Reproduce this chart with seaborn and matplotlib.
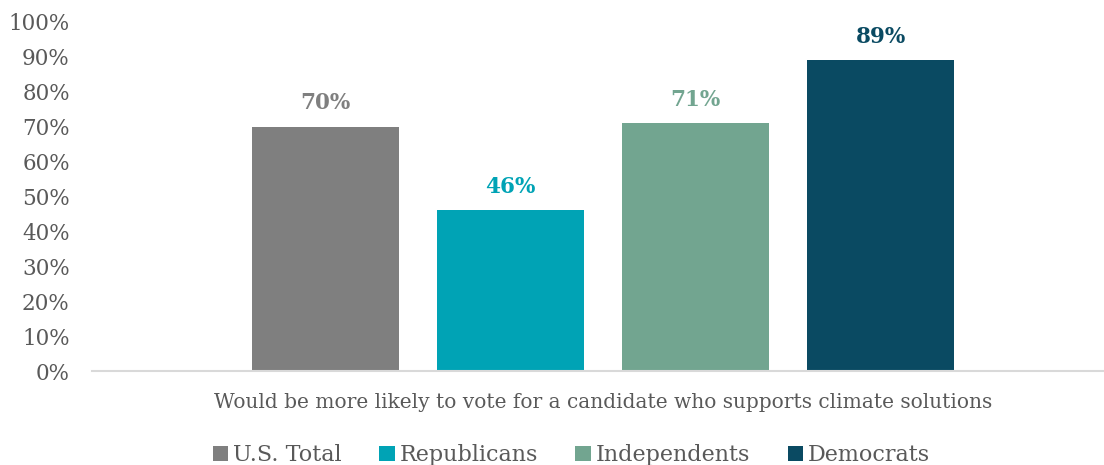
import matplotlib
matplotlib.use("Agg")
import matplotlib.pyplot as plt
import seaborn as sns
import pandas as pd

category = ["Would be more likely to vote for a candidate who supports climate solutions"]
series = ["U.S. Total", "Republicans", "Independents", "Democrats"]
values = [0.70, 0.46, 0.71, 0.89]
colors = ["#7F7F7F", "#00A3B5", "#72A590", "#0A4A62"]
yticks = [0, 0.1, 0.2, 0.3, 0.4, 0.5, 0.6, 0.7, 0.8, 0.9, 1.0]

df = pd.DataFrame({"cat": category * len(series), "series": series, "value": values})

sns.set_theme(style="white")
plt.rcParams["font.family"] = ["DejaVu Serif"]

fig = plt.figure(figsize=(11.04, 4.65), dpi=100)
ax = fig.add_axes([92 / 1104, 94 / 465, 1022 / 1104, 349 / 465])

sns.barplot(data=df, x="cat", y="value", hue="series", hue_order=series,
            palette=colors, width=0.725, gap=0.207, ax=ax, legend=True,
            saturation=1, linewidth=0)

for container, col in zip(ax.containers, colors):
    ax.bar_label(container, labels=[f"{v*100:.0f}%" for v in container.datavalues],
                 padding=9, color=col, fontsize=15.5, fontweight="bold")

ax.set_ylim(0, 1.0)
ax.set_xlim(-0.5, 0.5)
ax.set_yticks(yticks)
ax.set_yticklabels([f"{int(round(t*100))}%" for t in yticks], color="#595959", fontsize=15.5)
ax.tick_params(axis="x", labelsize=14.5, labelcolor="#595959", length=0, pad=16)
ax.tick_params(axis="y", length=0, pad=16)
ax.set_xlabel("")
ax.set_ylabel("")
for s in ["top", "right", "left"]:
    ax.spines[s].set_visible(False)
ax.spines["bottom"].set_color("#D9D9D9")
ax.spines["bottom"].set_linewidth(1.5)
ax.grid(False)

leg = ax.legend(loc="lower center", bbox_to_anchor=(0.469, -0.33), ncol=4,
                frameon=False, fontsize=16, handlelength=0.7, handleheight=0.7,
                handletextpad=0.2, columnspacing=1.7,
                labelcolor="#595959")

fig.savefig("out.png", dpi=100)
